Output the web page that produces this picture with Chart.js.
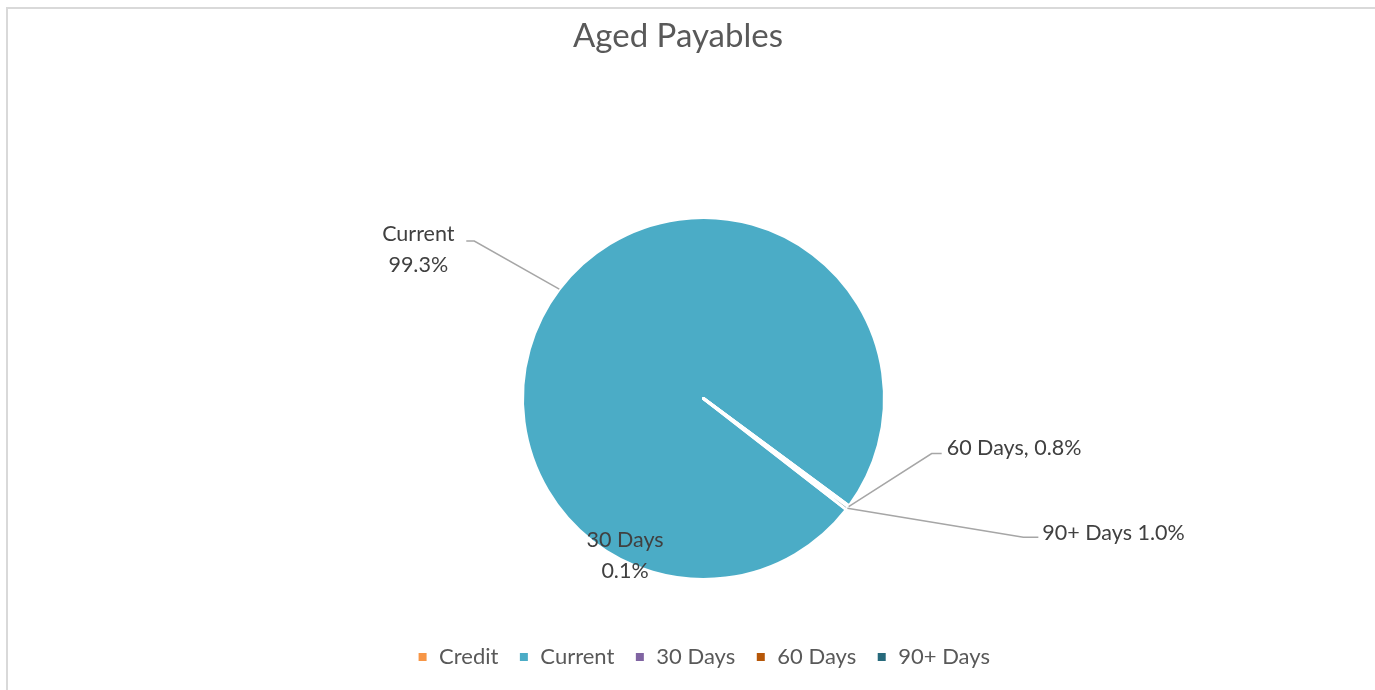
<!DOCTYPE html>
<html>
<head>
<meta charset="utf-8">
<title>Aged Payables</title>
<script src="https://cdn.jsdelivr.net/npm/chart.js@4/dist/chart.umd.min.js"></script>
<style>
  html, body { margin: 0; padding: 0; background: #fff; overflow: hidden; }
  #wrap { position: absolute; left: 0; top: 0; width: 1375px; height: 690px; }
  #frame { position: absolute; left: 6px; top: 7px; width: 1400px; height: 720px;
           border: 2px solid #d9d9d9; box-sizing: border-box; }
</style>
</head>
<body>
<div id="wrap">
  <div id="frame"></div>
  <canvas id="chart-aged-payables" width="1375" height="690"></canvas>
</div>
<script>
// categories and values
const categories = ['Credit', 'Current', '30 Days', '60 Days', '90+ Days'];
// slice sizes as they appear in the picture (credit is negative, so nothing is drawn)
const sliceValues = [0, 99.6, 0.02, 0.08, 0.3];
// percentages printed in the data labels
const shownPercents = [null, 99.3, 0.1, 0.8, 1.0];
const sliceColors = ['#F79646', '#4BACC6', '#8064A2', '#B65708', '#276A7C'];

const FONT = 'Lato, "Open Sans", sans-serif';

// where each data label sits, relative to the slice's outer edge point
const labelLayout = [
  null,
  { lines: (c, p) => [c, p + '%'], dx: -141, dy: -55, align: 'center', elbow: [-85, -48], tail: -8 },
  { lines: (c, p) => [c, p.toFixed(1) + '%'], dx: -224, dy: 34, align: 'center', elbow: null },
  { lines: (c, p) => [c + ', ' + p.toFixed(1) + '%'], dx: 98, dy: -59, align: 'left', elbow: [83, -53], tail: 10 },
  { lines: (c, p) => [c + ' ' + p.toFixed(1) + '%'], dx: 195, dy: 25, align: 'left', elbow: [176, 29], tail: 15 }
];

const titlePlugin = {
  id: 'offsetTitle',
  afterDraw(chart) {
    const ctx = chart.ctx;
    ctx.save();
    ctx.font = '33px ' + FONT;
    ctx.fillStyle = '#595959';
    ctx.textAlign = 'center';
    ctx.textBaseline = 'middle';
    ctx.fillText('Aged Payables', 678, 36);
    ctx.restore();
  }
};

const dataLabelPlugin = {
  id: 'pieLabels',
  afterDatasetsDraw(chart) {
    const ctx = chart.ctx;
    const arcs = chart.getDatasetMeta(0).data;
    ctx.save();
    ctx.font = '21.5px ' + FONT;
    ctx.fillStyle = '#404040';
    ctx.textBaseline = 'middle';
    arcs.forEach((arc, i) => {
      const lay = labelLayout[i];
      if (!lay) return;
      const mid = (arc.startAngle + arc.endAngle) / 2;
      const ax = arc.x + Math.cos(mid) * arc.outerRadius;
      const ay = arc.y + Math.sin(mid) * arc.outerRadius;
      if (lay.elbow) {
        const ex = ax + lay.elbow[0], ey = ay + lay.elbow[1];
        ctx.beginPath();
        ctx.strokeStyle = '#a6a6a6';
        ctx.lineWidth = 1.5;
        ctx.moveTo(ax, ay);
        ctx.lineTo(ex, ey);
        ctx.lineTo(ex + lay.tail, ey);
        ctx.stroke();
      }
      const lines = lay.lines(categories[i], shownPercents[i]);
      ctx.textAlign = lay.align;
      lines.forEach((t, k) => {
        ctx.fillText(t, ax + lay.dx, ay + lay.dy + k * 31);
      });
    });
    ctx.restore();
  }
};

new Chart(document.getElementById('chart-aged-payables').getContext('2d'), {
  type: 'pie',
  data: {
    labels: categories,
    datasets: [{
      data: sliceValues,
      backgroundColor: sliceColors,
      borderColor: '#ffffff',
      borderWidth: 3,
      borderJoinStyle: 'round'
    }]
  },
  options: {
    responsive: false,
    animation: false,
    rotation: 127.9,
    radius: 181,
    layout: { padding: { top: 171, bottom: 12, left: 32, right: 0 } },
    plugins: {
      title: { display: false },
      tooltip: { enabled: false },
      legend: {
        position: 'bottom',
        labels: {
          color: '#595959',
          boxWidth: 11,
          boxHeight: 11,
          padding: 20,
          font: { family: FONT, size: 22 }
        }
      }
    }
  },
  plugins: [titlePlugin, dataLabelPlugin]
});
</script>
</body>
</html>
